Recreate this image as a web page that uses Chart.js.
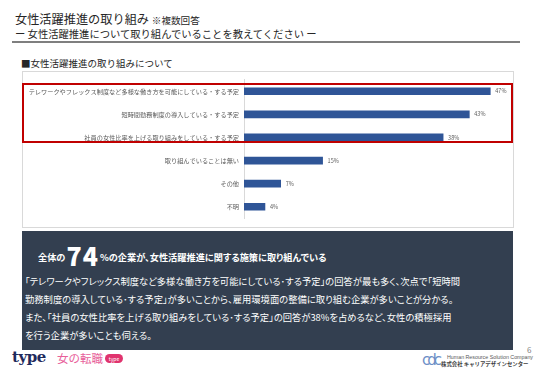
<!DOCTYPE html>
<html lang="ja">
<head>
<meta charset="utf-8">
<script src="https://cdn.jsdelivr.net/npm/chart.js@4.4.1/dist/chart.umd.min.js"></script>
<style>
  body { margin: 0; background: #fff; font-family: "Noto Sans CJK JP", sans-serif; }
  #page { position: relative; width: 536px; height: 371px; overflow: hidden; background: #fff; }
  .abs { position: absolute; white-space: nowrap; }
  #title { left: 15px; top: 10px; font-size: 12.2px; color: #262626; font-weight: normal; }
  #title small { font-size: 9.6px; }
  #sub { left: 15px; top: 26px; font-size: 10.3px; color: #262626; }
  #rule { left: 12px; top: 41px; width: 508px; height: 2px; background: #7f7f7f; }
  #section { left: 21px; top: 56px; font-size: 9.5px; color: #262626; }
  #chartBox { left: 22px; top: 71px; width: 490px; height: 155px; border: 1px solid #d9d9d9; }
  #chartWrap { position: absolute; left: 22px; top: 71px; width: 491px; height: 156px; }
  #redBox { left: 22px; top: 83px; width: 487px; height: 56px; border: 2px solid #c00000; }
  #summary { left: 22px; top: 231px; width: 491px; height: 119px; background: #333f50; }
  #head { left: 38px; top: 237px; color: #fff; font-weight: bold; font-size: 9.2px; font-feature-settings: "palt"; }
  #head b { font-size: 25px; vertical-align: -5px; margin: 0 1px; letter-spacing: 1px; }
  .body { left: 25px; color: #fff; font-size: 9.3px; font-feature-settings: "palt"; }
  #logo1 { left: 12px; top: 348px; font-family: "DejaVu Serif", serif; font-weight: bold; font-size: 15px; color: #1f2a5c; letter-spacing: -0.5px; }
  #logo2 { left: 57px; top: 350px; font-size: 11.5px; color: #e8609a; }
  #logo3 { left: 105px; top: 354px; width: 18px; height: 9px; border-radius: 5px; background: #e0336e; color: #fff; font-size: 5px; text-align: center; line-height: 9px; }
  #pageNo { left: 527px; top: 344px; font-size: 8px; color: #7f7f7f; }
  #cdc { left: 422px; top: 351px; font-family: "DejaVu Sans", sans-serif; font-size: 15px; color: #6d8fc7; letter-spacing: -3px; }
  #co1 { left: 447px; top: 354px; font-family: "Liberation Sans", sans-serif; font-size: 5.3px; color: #595959; }
  #co2 { left: 441px; top: 360px; font-size: 5.4px; color: #404040; font-weight: bold; }
</style>
</head>
<body>
<div id="page">
  <div class="abs" id="title">女性活躍推進の取り組み <small>※複数回答</small></div>
  <div class="abs" id="sub">ー 女性活躍推進について取り組んでいることを教えてください ー</div>
  <div class="abs" id="rule"></div>
  <div class="abs" id="section">■女性活躍推進の取り組みについて</div>
  <div class="abs" id="chartBox"></div>
  <div id="chartWrap"><canvas id="chart"></canvas></div>
  <div class="abs" id="redBox"></div>

  <div class="abs" id="summary"></div>
  <div class="abs" id="head">全体の<b>74</b>%の企業が、女性活躍推進に関する施策に取り組んでいる</div>
  <div class="abs body" style="top:274px">「テレワークやフレックス制度など多様な働き方を可能にしている･する予定」の回答が最も多く、次点で「短時間</div>
  <div class="abs body" style="top:292px">勤務制度の導入している･する予定」が多いことから、雇用環境面の整備に取り組む企業が多いことが分かる。</div>
  <div class="abs body" style="top:310px">また、「社員の女性比率を上げる取り組みをしている･する予定」の回答が38%を占めるなど、女性の積極採用</div>
  <div class="abs body" style="top:328px">を行う企業が多いことも伺える。</div>

  <div class="abs" id="logo1">type</div>
  <div class="abs" id="logo2">女の転職</div>
  <div class="abs" id="logo3">type</div>
  <div class="abs" id="pageNo">6</div>
  <div class="abs" id="cdc">cdc</div>
  <div class="abs" id="co1">Human Resource Solution Company</div>
  <div class="abs" id="co2">株式会社 キャリアデザインセンター</div>
</div>
<script>
const categories = [
  'テレワークやフレックス制度など多様な働き方を可能にしている・する予定',
  '短時間勤務制度の導入している・する予定',
  '社員の女性比率を上げる取り組みをしている・する予定',
  '取り組んでいることは無い',
  'その他',
  '不明'
];
const values = [47, 43, 38, 15, 7, 4];

const valueLabels = {
  id: 'valueLabels',
  afterDatasetsDraw(chart) {
    const ctx = chart.ctx;
    const meta = chart.getDatasetMeta(0);
    ctx.save();
    ctx.font = '5.5px "Noto Sans CJK JP"';
    ctx.fillStyle = '#595959';
    ctx.textBaseline = 'middle';
    meta.data.forEach((bar, i) => {
      ctx.fillText(values[i] + '%', bar.x + 5, bar.y);
    });
    ctx.restore();
  }
};

new Chart(document.getElementById('chart'), {
  type: 'bar',
  data: {
    labels: categories,
    datasets: [{
      data: values,
      backgroundColor: '#2f5597',
      borderColor: '#2f5597',
      barThickness: 7
    }]
  },
  options: {
    indexAxis: 'y',
    responsive: true,
    maintainAspectRatio: false,
    animation: false,
    layout: { padding: { top: 8, bottom: 8, right: 7, left: 0 } },
    plugins: { legend: { display: false }, tooltip: { enabled: false } },
    scales: {
      x: { min: 0, max: 50, display: false },
      y: {
        grid: { display: false, drawTicks: false },
        border: { display: true, color: '#d9d9d9', width: 1 },
        ticks: {
          padding: 5,
          color: '#595959',
          font: { size: 6.2, family: '"Noto Sans CJK JP"' }
        },
        afterFit(scale) { scale.width = 222; }
      }
    }
  },
  plugins: [valueLabels]
});
</script>
</body>
</html>
